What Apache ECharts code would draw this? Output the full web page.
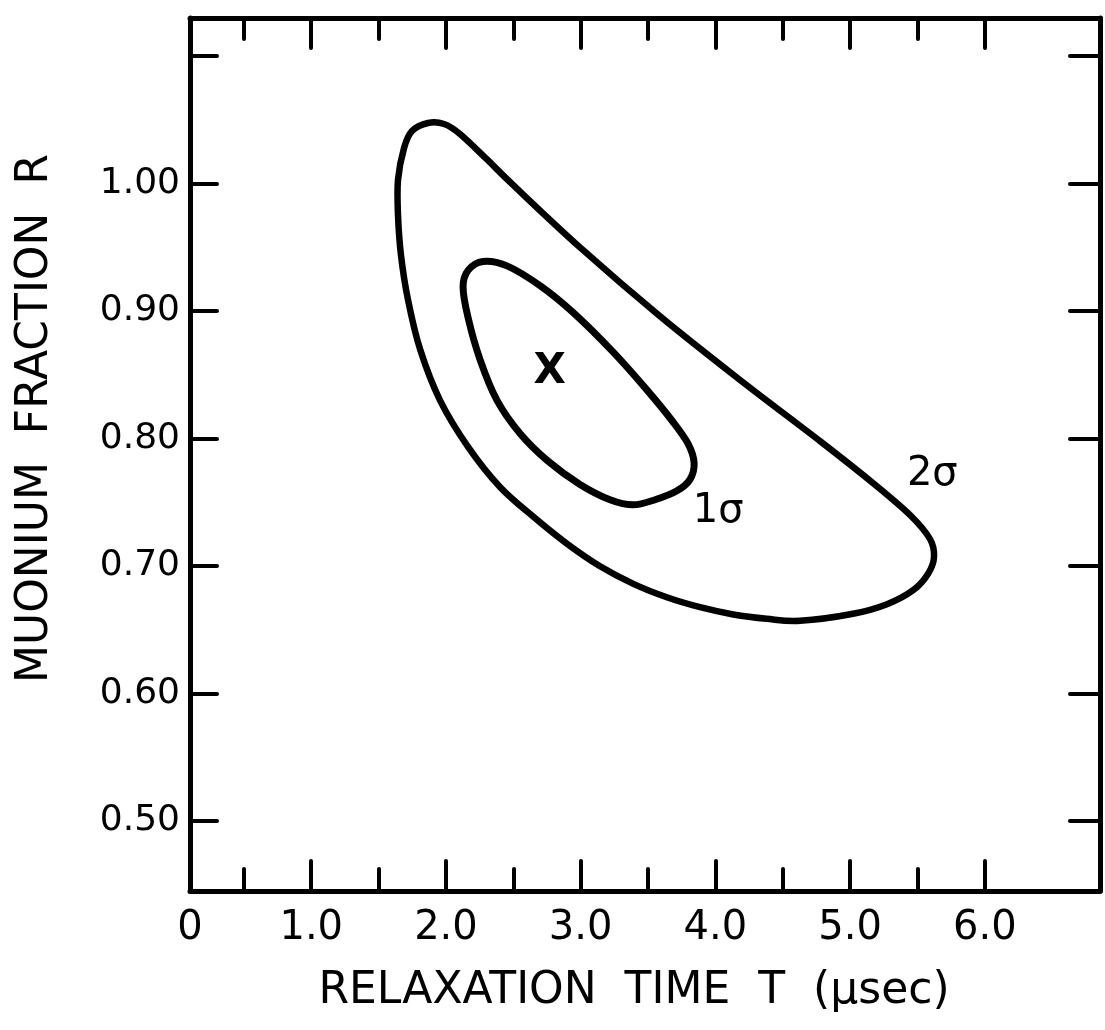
<!DOCTYPE html>
<html>
<head>
<meta charset="utf-8">
<script src="https://cdn.jsdelivr.net/npm/echarts@6/dist/echarts.min.js"></script>
<style>
  html, body { margin: 0; padding: 0; background: #ffffff; }
  #chart { width: 1105px; height: 1030px; }
</style>
</head>
<body>
<div id="chart"></div>
<script>
// ---- data ----
// 2-sigma contour (relaxation time T in µsec, muonium fraction R), closed loop
const sigma2T = [2.498, 2.995, 3.589, 4.183, 4.777, 5.171, 5.445, 5.594, 5.623, 5.579, 5.468, 5.274, 5.022, 4.629, 4.381, 4.133, 3.886, 3.639, 3.391, 3.144, 2.897, 2.649, 2.401, 2.164, 1.956, 1.808, 1.718, 1.666, 1.644, 1.644, 1.689, 1.748, 1.867, 1.986, 2.104, 2.305];
const sigma2R = [0.999, 0.950, 0.896, 0.846, 0.798, 0.765, 0.740, 0.721, 0.707, 0.694, 0.681, 0.670, 0.6625, 0.657, 0.6586, 0.662, 0.6677, 0.6755, 0.686, 0.6998, 0.7176, 0.7386, 0.762, 0.7935, 0.830, 0.870, 0.909, 0.944, 0.9755, 1.003, 1.028, 1.0413, 1.0476, 1.0468, 1.039, 1.019];
// 1-sigma contour, closed loop
const sigma1T = [2.943, 3.240, 3.493, 3.686, 3.797, 3.842, 3.812, 3.715, 3.552, 3.389, 3.218, 2.995, 2.750, 2.550, 2.379, 2.253, 2.164, 2.127, 2.164, 2.275, 2.453, 2.698];
const sigma1R = [0.899, 0.868, 0.838, 0.813, 0.796, 0.781, 0.768, 0.759, 0.752, 0.748, 0.752, 0.764, 0.783, 0.804, 0.830, 0.862, 0.895, 0.919, 0.932, 0.939, 0.9355, 0.920];
// annotations: best-fit mark and contour labels
const noteText = ['X', '1\u03c3', '2\u03c3'];
const noteT = [2.77, 4.02, 5.61];
const noteR = [0.852, 0.743, 0.772];

// axes
const X_MIN = 0.1, X_MAX = 6.855;
const Y_MIN = 0.445, Y_MAX = 1.13;
const xMajorTicks = [1, 2, 3, 4, 5, 6];
const xMinorTicks = [0.5, 1.5, 2.5, 3.5, 4.5, 5.5];
const xLabelValues = [0.1, 1, 2, 3, 4, 5, 6];
const xLabelTexts = ['0', '1.0', '2.0', '3.0', '4.0', '5.0', '6.0'];
const yTicks = [0.5, 0.6, 0.7, 0.8, 0.9, 1.0, 1.1];
const yLabelValues = [0.5, 0.6, 0.7, 0.8, 0.9, 1.0];
const yLabelTexts = ['0.50', '0.60', '0.70', '0.80', '0.90', '1.00'];
const xTitle = 'RELAXATION  TIME  T  (\u03bcsec)';
const yTitle = 'MUONIUM  FRACTION  R';

// ---- build ----
const FONT = '"DejaVu Sans", sans-serif';
const BLACK = '#000000';
function zip(a, b) { return a.map((v, i) => [v, b[i]]); }
function nearestLabel(values, texts, v) {
  let best = 0;
  values.forEach((x, i) => { if (Math.abs(x - v) < Math.abs(values[best] - v)) best = i; });
  return texts[best];
}

// closed smooth curve through the data points (Catmull-Rom drawn as cubic Beziers),
// positions obtained from the chart's own axes via api.coord
function closedCurveSeries(name, T, R, width) {
  const pts = zip(T, R);
  return {
    name: name, type: 'custom', xAxisIndex: 0, yAxisIndex: 0,
    data: pts, clip: false,
    renderItem: function (params, api) {
      if (params.dataIndex !== 0) return null;
      const p = pts.map(d => api.coord(d));
      const n = p.length;
      let d = 'M' + p[0][0] + ',' + p[0][1];
      for (let i = 0; i < n; i++) {
        const p0 = p[(i - 1 + n) % n], p1 = p[i], p2 = p[(i + 1) % n], p3 = p[(i + 2) % n];
        const c1x = p1[0] + (p2[0] - p0[0]) / 6, c1y = p1[1] + (p2[1] - p0[1]) / 6;
        const c2x = p2[0] - (p3[0] - p1[0]) / 6, c2y = p2[1] - (p3[1] - p1[1]) / 6;
        d += 'C' + c1x + ',' + c1y + ' ' + c2x + ',' + c2y + ' ' + p2[0] + ',' + p2[1];
      }
      d += 'Z';
      return {
        type: 'path',
        shape: { pathData: d },
        style: { fill: 'none', stroke: BLACK, lineWidth: width, lineJoin: 'round' }
      };
    }
  };
}

const tickLine = { color: BLACK, width: 4, cap: 'round' };

const chart = echarts.init(document.getElementById('chart'), null, { renderer: 'canvas' });
chart.setOption({
  backgroundColor: '#ffffff',
  animation: false,
  grid: { left: 190, right: 5, top: 18, bottom: 139, containLabel: false },
  xAxis: [
    {
      type: 'value', position: 'bottom', min: X_MIN, max: X_MAX,
      axisLine: { show: true, onZero: false, lineStyle: { color: BLACK, width: 5 } },
      axisTick: { show: true, inside: true, length: 30, customValues: xMajorTicks, lineStyle: tickLine },
      axisLabel: {
        show: true, customValues: xLabelValues, margin: 18,
        formatter: v => nearestLabel(xLabelValues, xLabelTexts, v),
        color: BLACK, fontSize: 40, fontFamily: FONT
      },
      splitLine: { show: false },
      name: xTitle, nameLocation: 'middle', nameGap: 79,
      nameTextStyle: { color: BLACK, fontSize: 44, fontFamily: FONT, padding: [0, 22, 0, 0] }
    },
    {
      type: 'value', position: 'bottom', min: X_MIN, max: X_MAX,
      axisLine: { show: false, onZero: false },
      axisTick: { show: true, inside: true, length: 22, customValues: xMinorTicks, lineStyle: tickLine },
      axisLabel: { show: false }, splitLine: { show: false }
    },
    {
      type: 'value', position: 'top', min: X_MIN, max: X_MAX,
      axisLine: { show: true, onZero: false, lineStyle: { color: BLACK, width: 5 } },
      axisTick: { show: true, inside: true, length: 30, customValues: xMajorTicks, lineStyle: tickLine },
      axisLabel: { show: false }, splitLine: { show: false }
    },
    {
      type: 'value', position: 'top', min: X_MIN, max: X_MAX,
      axisLine: { show: false, onZero: false },
      axisTick: { show: true, inside: true, length: 21, customValues: xMinorTicks, lineStyle: tickLine },
      axisLabel: { show: false }, splitLine: { show: false }
    }
  ],
  yAxis: [
    {
      type: 'value', position: 'left', min: Y_MIN, max: Y_MAX,
      axisLine: { show: true, onZero: false, lineStyle: { color: BLACK, width: 5 } },
      axisTick: { show: true, inside: true, length: 27, customValues: yTicks, lineStyle: tickLine },
      axisLabel: {
        show: true, customValues: yLabelValues, margin: 10,
        formatter: v => nearestLabel(yLabelValues, yLabelTexts, v),
        color: BLACK, fontSize: 36, fontFamily: FONT
      },
      splitLine: { show: false },
      name: yTitle, nameLocation: 'middle', nameGap: 132,
      nameTextStyle: { color: BLACK, fontSize: 44, fontFamily: FONT, padding: [0, 0, 0, 72] }
    },
    {
      type: 'value', position: 'right', min: Y_MIN, max: Y_MAX,
      axisLine: { show: true, onZero: false, lineStyle: { color: BLACK, width: 5 } },
      axisTick: { show: true, inside: true, length: 30, customValues: yTicks, lineStyle: tickLine },
      axisLabel: { show: false }, splitLine: { show: false }
    }
  ],
  series: [
    closedCurveSeries('2\u03c3', sigma2T, sigma2R, 6.5),
    closedCurveSeries('1\u03c3', sigma1T, sigma1R, 7),
    {
      name: 'annotations', type: 'custom', xAxisIndex: 0, yAxisIndex: 0,
      data: zip(noteT, noteR), clip: false,
      renderItem: function (params, api) {
        const c = api.coord([api.value(0), api.value(1)]);
        const isMark = params.dataIndex === 0;
        return {
          type: 'text', x: c[0], y: c[1],
          style: {
            text: noteText[params.dataIndex], fill: BLACK,
            fontSize: isMark ? 42 : 40, fontWeight: isMark ? 'bold' : 'normal',
            fontFamily: FONT, align: 'center', verticalAlign: 'middle'
          }
        };
      }
    }
  ]
});
</script>
</body>
</html>
